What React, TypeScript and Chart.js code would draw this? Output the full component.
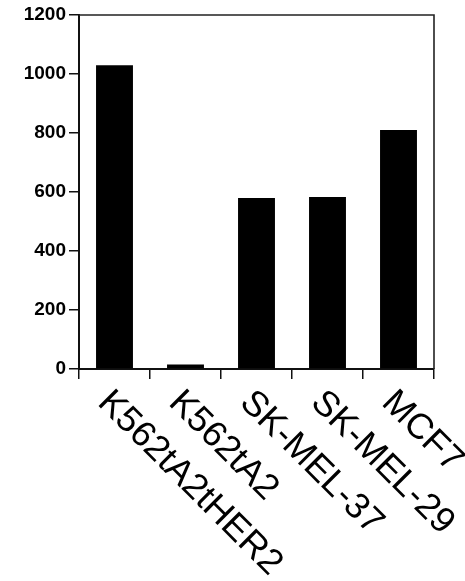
import React, { useEffect, useRef } from "react";
import { Chart, registerables } from "chart.js";

Chart.register(...registerables);

const categories = ["K562tA2tHER2", "K562tA2", "SK-MEL-37", "SK-MEL-29", "MCF7"];
const values = [1030, 15, 580, 583, 810];
const yTicks = [0, 200, 400, 600, 800, 1000, 1200];

const FONT = "'Liberation Sans', Arial, Helvetica, sans-serif";

const rotatedLabels = {
  id: "rotatedLabels",
  afterDraw(chart: any) {
    const ctx = chart.ctx;
    const xs = chart.scales.x;
    ctx.save();
    ctx.fillStyle = "#000";
    ctx.font = `36px ${FONT}`;
    ctx.textAlign = "left";
    ctx.textBaseline = "alphabetic";
    categories.forEach((label, i) => {
      const px = xs.getPixelForValue(i);
      ctx.save();
      ctx.translate(px - 18, xs.top + 35);
      ctx.rotate(Math.PI / 4);
      ctx.fillText(label, 0, 0);
      ctx.restore();
    });
    ctx.restore();
  },
};

const frameBox = {
  id: "frameBox",
  afterDraw(chart: any) {
    const { ctx, chartArea } = chart;
    ctx.save();
    ctx.strokeStyle = "#222";
    ctx.lineWidth = 1.6;
    ctx.beginPath();
    ctx.moveTo(chartArea.left, chartArea.top);
    ctx.lineTo(chartArea.right, chartArea.top);
    ctx.lineTo(chartArea.right, chartArea.bottom);
    ctx.stroke();
    ctx.restore();
  },
};

export default function App() {
  const ref = useRef<HTMLCanvasElement | null>(null);
  useEffect(() => {
    if (!ref.current) return;
    const chart = new Chart(ref.current, {
      type: "bar",
      data: {
        labels: categories,
        datasets: [
          {
            data: values,
            backgroundColor: "#000",
            borderWidth: 0,
            barPercentage: 0.52,
            categoryPercentage: 1,
          },
        ],
      },
      options: {
        animation: false,
        responsive: true,
        maintainAspectRatio: false,
        layout: { padding: { top: 15, right: 31, left: 0, bottom: 0 } },
        plugins: { legend: { display: false }, tooltip: { enabled: false } },
        scales: {
          x: {
            offset: true,
            grid: {
              offset: true,
              drawOnChartArea: false,
              drawTicks: true,
              tickLength: 10,
              color: "#111",
              lineWidth: 1.5,
            },
            border: { display: true, color: "#111", width: 2 },
            ticks: { display: false },
            afterFit(scale: any) {
              scale.height = 212;
            },
          },
          y: {
            min: 0,
            max: 1200,
            afterBuildTicks(scale: any) {
              scale.ticks = yTicks.map((v) => ({ value: v }));
            },
            grid: {
              drawOnChartArea: false,
              drawTicks: true,
              tickLength: 10,
              color: "#111",
              lineWidth: 1.5,
            },
            border: { display: true, color: "#111", width: 2 },
            ticks: {
              padding: 3,
              color: "#000",
              font: { family: FONT, size: 19, weight: "bold" },
              callback: (v: any) => String(v),
            },
            afterFit(scale: any) {
              scale.width = 79;
            },
          },
        },
      },
      plugins: [rotatedLabels, frameBox],
    });
    return () => chart.destroy();
  }, []);
  return (
    <div style={{ position: "fixed", left: 0, top: 0, width: 465, height: 581, background: "#fff" }}>
      <canvas ref={ref} />
    </div>
  );
}
